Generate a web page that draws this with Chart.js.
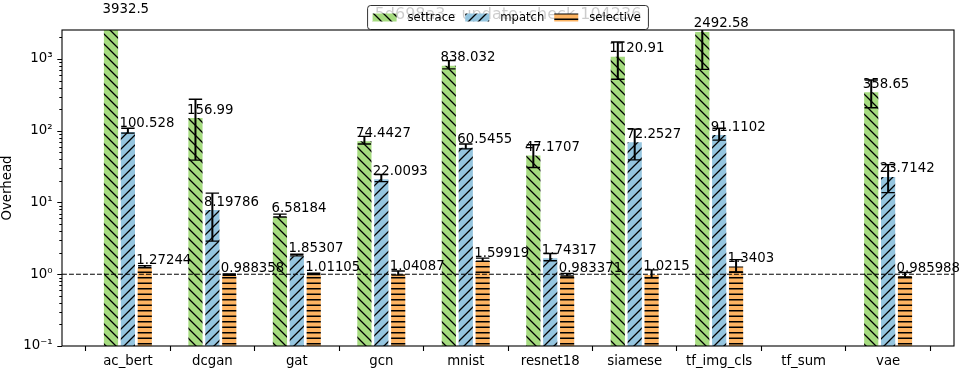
<!DOCTYPE html>
<html>
<head>
<meta charset="utf-8">
<script src="https://cdn.jsdelivr.net/npm/chart.js@4.4.1/dist/chart.umd.min.js"></script>
<style>
  html, body { margin: 0; padding: 0; background: #fff; }
  #wrap { width: 962px; height: 370px; position: relative; }
</style>
</head>
<body>
<div id="wrap"><canvas id="overheadChart"></canvas></div>
<script>
// benchmark names and measured overheads
const CATEGORIES = ['ac_bert', 'dcgan', 'gat', 'gcn', 'mnist', 'resnet18', 'siamese', 'tf_img_cls', 'tf_sum', 'vae'];
const SERIES = ['settrace', 'mpatch', 'selective'];

const SETTRACE = [3932.5, 156.99, 6.58184, 74.4427, 838.032, 47.1707, 1120.91, 2492.58, null, 358.65];
const MPATCH = [100.528, 8.19786, 1.85307, 22.0093, 60.5455, 1.74317, 72.2527, 91.1102, null, 23.7142];
const SELECTIVE = [1.27244, 0.988358, 1.01105, 1.04087, 1.59919, 0.983371, 1.0215, 1.3403, null, 0.985988];

// +/- error (std dev)
const SETTRACE_ERR = [300, 118, 0.3, 9, 110, 16.5, 600, 1775, null, 150];
const MPATCH_ERR = [8, 5.3, 0.05, 2.5, 4.7, 0.2, 33, 17, null, 10];
const SELECTIVE_ERR = [0.04, 0.02, 0.02, 0.07, 0.08, 0.04, 0.13, 0.26, null, 0.07];

const Y_MIN = 0.1;
const Y_MAX = 2535;
const BASELINE = 1;
const TITLE = '5d698a3 - update: check 104236';

const FONT = 'DejaVu Sans';
Chart.defaults.font.family = FONT;
Chart.defaults.color = '#000';

function makeHatch(color, kind) {
    const c = document.createElement('canvas');
    const g = c.getContext('2d');
    if (kind === '-') {
        c.width = 4; c.height = 11;
        g.fillStyle = color; g.fillRect(0, 0, 4, 11);
        g.strokeStyle = '#000'; g.lineWidth = 1.3;
        g.beginPath();
        g.moveTo(0, 2.75); g.lineTo(4, 2.75);
        g.moveTo(0, 8.25); g.lineTo(4, 8.25);
        g.stroke();
    } else {
        const s = 10;
        c.width = s; c.height = s;
        g.fillStyle = color; g.fillRect(0, 0, s, s);
        g.strokeStyle = '#000'; g.lineWidth = 1.3;
        g.beginPath();
        for (let k = -1; k <= 2; k++) {
            if (kind === '\\') {
                g.moveTo(-1, -1 + k * s); g.lineTo(s + 1, s + 1 + k * s);
            } else {
                g.moveTo(-1, k * s + 1); g.lineTo(s + 1, k * s - s - 1);
            }
        }
        g.stroke();
    }
    return g.createPattern(c, 'repeat');
}

const fills = [
    makeHatch('#a5db7f', '\\'),
    makeHatch('#95c5df', '/'),
    makeHatch('#fdb462', '-')
];

const toPoints = arr => arr.map((v, i) => ({ x: i, y: v }));

const SUP = { '-': '\u207B', '0': '\u2070', '1': '\u00B9', '2': '\u00B2', '3': '\u00B3', '4': '\u2074', '5': '\u2075' };
function decadeLabel(v) {
    const e = Math.log10(v);
    const r = Math.round(e);
    if (Math.abs(e - r) > 1e-6) return '';
    return '10' + String(r).split('').map(ch => SUP[ch]).join('');
}

// dashed line at 1, error bars, value labels
const overlayPlugin = {
    id: 'overlay',
    afterDatasetsDraw(chart) {
        const ctx = chart.ctx;
        const ca = chart.chartArea;
        const ys = chart.scales.y;

        ctx.save();
        const yb = ys.getPixelForValue(BASELINE);
        ctx.strokeStyle = '#000';
        ctx.lineWidth = 1;
        ctx.setLineDash([4.9, 2.1]);
        ctx.beginPath();
        ctx.moveTo(ca.left, yb);
        ctx.lineTo(ca.right, yb);
        ctx.stroke();
        ctx.restore();

        ctx.save();
        ctx.beginPath();
        ctx.rect(ca.left, ca.top, ca.right - ca.left, ca.bottom - ca.top);
        ctx.clip();
        ctx.strokeStyle = '#000';
        chart.data.datasets.forEach((ds, di) => {
            const meta = chart.getDatasetMeta(di);
            meta.data.forEach((bar, j) => {
                const v = ds.data[j].y;
                const e = ds.errorBars[j];
                if (v == null || e == null) return;
                const yt = ys.getPixelForValue(v + e);
                const ybt = ys.getPixelForValue(Math.max(v - e, 1e-6));
                ctx.lineWidth = 2;
                ctx.beginPath();
                ctx.moveTo(bar.x, yt); ctx.lineTo(bar.x, ybt);
                ctx.stroke();
                ctx.lineWidth = 1.4;
                ctx.beginPath();
                ctx.moveTo(bar.x - 6.7, yt); ctx.lineTo(bar.x + 6.7, yt);
                ctx.moveTo(bar.x - 6.7, ybt); ctx.lineTo(bar.x + 6.7, ybt);
                ctx.stroke();
            });
        });
        ctx.restore();

        ctx.save();
        ctx.fillStyle = '#000';
        ctx.font = '13.3px "' + FONT + '"';
        ctx.textAlign = 'left';
        ctx.textBaseline = 'alphabetic';
        chart.data.datasets.forEach((ds, di) => {
            const meta = chart.getDatasetMeta(di);
            meta.data.forEach((bar, j) => {
                const v = ds.data[j].y;
                if (v == null) return;
                const y = ys.getPixelForValue(v);
                ctx.fillText(String(v), bar.x - bar.width / 2, y - 3.1);
            });
        });
        ctx.restore();
    },
    afterDraw(chart) {
        const ctx = chart.ctx;
        const ca = chart.chartArea;
        const ys = chart.scales.y;

        // axes frame
        ctx.save();
        ctx.strokeStyle = '#000';
        ctx.lineWidth = 1.1;
        ctx.strokeRect(ca.left, ca.top, ca.right - ca.left, ca.bottom - ca.top);

        // y ticks, major and minor
        ctx.lineWidth = 1.1;
        ctx.beginPath();
        for (let k = -1; k <= 3; k++) {
            for (let m = 1; m <= 9; m++) {
                const v = m * Math.pow(10, k);
                if (v < Y_MIN * 0.999 || v > Y_MAX) continue;
                const y = Math.round(ys.getPixelForValue(v)) + 0.5;
                const len = m === 1 ? 4.7 : 2.7;
                ctx.moveTo(ca.left, y);
                ctx.lineTo(ca.left - len, y);
            }
        }
        ctx.stroke();
        ctx.restore();

        // title (sits under the legend box)
        const cx = (ca.left + ca.right) / 2;
        ctx.save();
        ctx.fillStyle = '#000';
        ctx.font = '16px "' + FONT + '"';
        ctx.textAlign = 'center';
        ctx.textBaseline = 'alphabetic';
        ctx.fillText(TITLE, cx, 18.7);
        ctx.restore();

        // legend
        ctx.save();
        ctx.font = '11.6px "' + FONT + '"';
        const widths = SERIES.map(s => ctx.measureText(s).width);
        const handleW = 24, textGap = 11, colGap = 10, padL = 5, padR = 7.5;
        let total = padL + padR + colGap * (SERIES.length - 1);
        widths.forEach(w => { total += handleW + textGap + w; });
        const bx = cx - total / 2, by = 5.5, bh = 24;
        ctx.beginPath();
        ctx.roundRect(bx, by, total, bh, 3);
        ctx.fillStyle = 'rgba(255,255,255,0.8)';
        ctx.fill();
        ctx.strokeStyle = 'rgba(0,0,0,0.8)';
        ctx.lineWidth = 1;
        ctx.stroke();
        let x = bx + padL;
        const midY = by + bh / 2;
        SERIES.forEach((s, i) => {
            ctx.fillStyle = fills[i];
            ctx.fillRect(x, midY - 4, handleW, 8);
            x += handleW + textGap;
            ctx.fillStyle = '#000';
            ctx.textBaseline = 'middle';
            ctx.fillText(s, x, midY);
            x += widths[i] + colGap;
        });
        ctx.restore();
    }
};

const datasets = [
    { label: SERIES[0], data: toPoints(SETTRACE), errorBars: SETTRACE_ERR },
    { label: SERIES[1], data: toPoints(MPATCH), errorBars: MPATCH_ERR },
    { label: SERIES[2], data: toPoints(SELECTIVE), errorBars: SELECTIVE_ERR }
].map((d, i) => Object.assign(d, {
    backgroundColor: fills[i],
    borderColor: '#fff',
    borderWidth: 1.35,
    borderSkipped: 'start',
    categoryPercentage: 0.6,
    barPercentage: 1.0
}));

new Chart(document.getElementById('overheadChart'), {
    type: 'bar',
    data: { datasets: datasets },
    options: {
        responsive: true,
        maintainAspectRatio: false,
        devicePixelRatio: 1,
        animation: false,
        layout: { padding: { top: 30, right: 8, left: 0, bottom: 0 } },
        plugins: {
            legend: { display: false },
            title: { display: false },
            tooltip: { enabled: false }
        },
        scales: {
            x: {
                type: 'linear',
                min: -0.78,
                max: 9.78,
                offset: false,
                afterBuildTicks: s => { s.ticks = CATEGORIES.map((_, i) => ({ value: i })); },
                afterFit: s => { s.height = 24; },
                ticks: {
                    callback: v => CATEGORIES[v],
                    autoSkip: false,
                    maxRotation: 0,
                    padding: 3,
                    color: '#000',
                    font: { size: 13.3 }
                },
                grid: {
                    display: true,
                    drawOnChartArea: false,
                    drawTicks: true,
                    tickLength: 5,
                    tickColor: '#000',
                    tickWidth: 1.1
                },
                border: { display: false }
            },
            y: {
                type: 'logarithmic',
                min: Y_MIN,
                max: Y_MAX,
                afterFit: s => { s.width = 62; },
                title: {
                    display: true,
                    text: 'Overhead',
                    color: '#000',
                    font: { size: 13.3, lineHeight: 1.1 },
                    padding: 0
                },
                ticks: {
                    autoSkip: false,
                    padding: 9.5,
                    color: '#000',
                    font: { size: 13.3 },
                    callback: v => decadeLabel(v)
                },
                grid: { display: false, drawTicks: false },
                border: { display: false }
            }
        }
    },
    plugins: [overlayPlugin]
});
</script>
</body>
</html>
